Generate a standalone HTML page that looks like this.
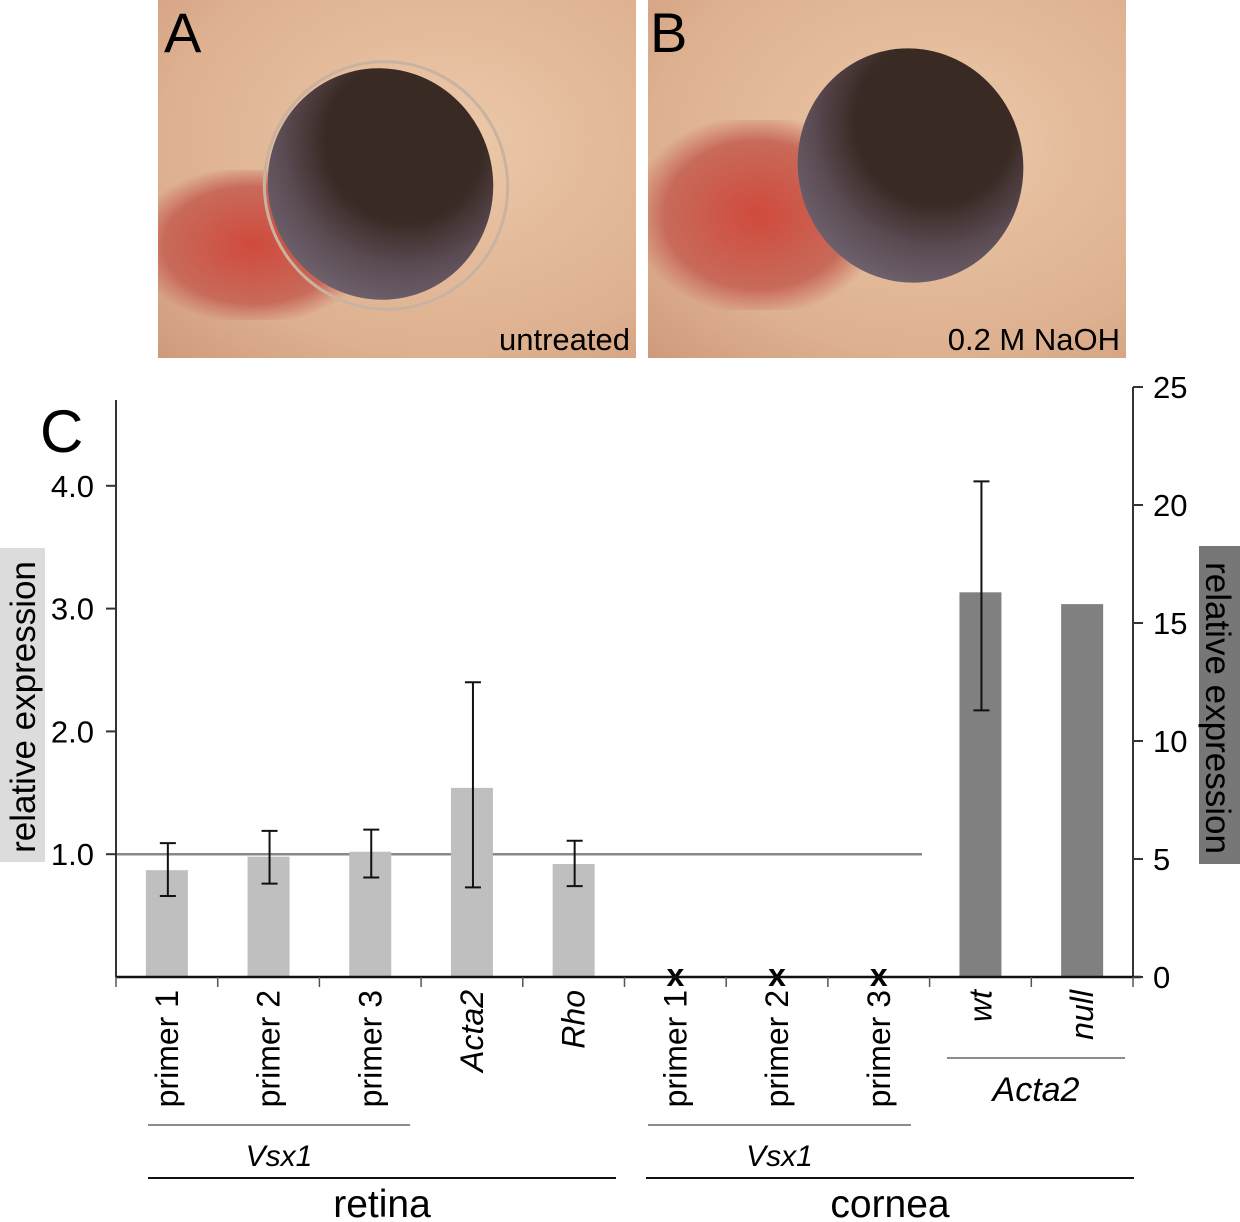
<!DOCTYPE html>
<html><head><meta charset="utf-8"><style>
body{margin:0;background:#fff;width:1240px;height:1222px;overflow:hidden;font-family:"Liberation Sans",sans-serif}
.photo{position:absolute;top:0;height:358px;overflow:hidden}
</style></head><body>
<div class="photo" style="left:158px;width:478px;background:radial-gradient(ellipse at 60% 40%,#ecc9aa,#ddb08f 70%,#cf9a7c)">
 <div style="position:absolute;left:-20px;top:170px;width:230px;height:150px;background:radial-gradient(ellipse,#d04a3c,#c86a5a 55%,transparent 75%)"></div>
 <div style="position:absolute;left:105px;top:60px;width:240px;height:245px;border-radius:50%;border:3px solid #c9b3a0;transform:rotate(-15deg)"></div>
 <div style="position:absolute;left:110px;top:68px;width:225px;height:232px;border-radius:50%;background:radial-gradient(ellipse at 65% 35%,#3a2a24 38%,#5a4a52 58%,#706470 80%);transform:rotate(-15deg)"></div>
 <div style="position:absolute;left:6px;top:0px;font-size:56px;color:#000">A</div>
 <div style="position:absolute;right:6px;bottom:0px;font-size:31px;color:#000">untreated</div>
</div>
<div class="photo" style="left:648px;width:478px;background:radial-gradient(ellipse at 60% 40%,#ecc9aa,#ddb08f 70%,#cf9a7c)">
 <div style="position:absolute;left:-10px;top:120px;width:240px;height:190px;background:radial-gradient(ellipse,#d04a3c,#c86a5a 55%,transparent 75%)"></div>
 <div style="position:absolute;left:150px;top:48px;width:225px;height:235px;border-radius:50%;background:radial-gradient(ellipse at 65% 35%,#3a2a24 38%,#5a4a52 58%,#706470 80%);transform:rotate(-15deg)"></div>
 <div style="position:absolute;left:2px;top:0px;font-size:56px;color:#000">B</div>
 <div style="position:absolute;right:6px;bottom:0px;font-size:31px;color:#000">0.2 M NaOH</div>
</div>
<svg id="chart" width="1240" height="1222" style="position:absolute;left:0;top:0" font-family="Liberation Sans, sans-serif"></svg>
<script>
const categories=["primer 1","primer 2","primer 3","Acta2","Rho","primer 1","primer 2","primer 3","wt","null"];
const italic=[false,false,false,true,true,false,false,false,true,true];
const leftValues=[0.87,0.98,1.02,1.54,0.92,null,null,null,null,null];
const leftErrLow=[0.66,0.76,0.81,0.73,0.74];
const leftErrHigh=[1.09,1.19,1.2,2.4,1.11];
const missing=[5,6,7];
const rightValues=[null,null,null,null,null,null,null,null,16.3,15.8];
const rightErrLow=[11.3];
const rightErrHigh=[21.0];
const leftTicks=[1.0,2.0,3.0,4.0];
const leftTickLabels=["1.0","2.0","3.0","4.0"];
const rightTicks=[0,5,10,15,20,25];
const refValue=1.0;
const svg=document.getElementById('chart');
const NS='http://www.w3.org/2000/svg';
function add(tag,attrs,text){const e=document.createElementNS(NS,tag);for(const k in attrs)e.setAttribute(k,attrs[k]);if(text!==undefined)e.textContent=text;svg.appendChild(e);return e;}
const x0=116,x1=1133,y0=977;
const yL=v=>y0-v*122.8;
const yR=v=>y0-v*23.6;
const step=(x1-x0)/10;
const xc=i=>x0+step*(i+0.5);
const bw=42;
let t=add('text',{x:40,y:452,'font-size':60},'C');
let r=add('rect',{x:0,y:548,width:45,height:314,fill:'#dcdcdc'});
t=add('text',{x:0,y:0,'font-size':35,'text-anchor':'middle',transform:'translate(35,707) rotate(-90)'},'relative expression');
r=add('rect',{x:1199,y:546,width:41,height:318,fill:'#777'});
t=add('text',{x:0,y:0,'font-size':35,'text-anchor':'middle',transform:'translate(1206,708) rotate(90)'},'relative expression');
let l=add('line',{x1:x0,x2:922,y1:yL(refValue),y2:yL(refValue),stroke:'#888','stroke-width':2.5});
categories.forEach((c,i)=>{
 if(leftValues[i]!=null){const b=add('rect',{x:xc(i)-bw/2,y:yL(leftValues[i]),width:bw,height:y0-yL(leftValues[i]),fill:'#bfbfbf'});
  const lo=yL(leftErrLow[i]),hi=yL(leftErrHigh[i]),x=xc(i)+1;
  const eb=add('path',{d:`M${x},${lo}V${hi}M${x-8},${lo}H${x+8}M${x-8},${hi}H${x+8}`,stroke:'#111','stroke-width':2,fill:'none'});}
 if(rightValues[i]!=null){const b=add('rect',{x:xc(i)-bw/2,y:yR(rightValues[i]),width:bw,height:y0-yR(rightValues[i]),fill:'#808080'});}
});
{const i=8,lo=yR(rightErrLow[0]),hi=yR(rightErrHigh[0]),x=xc(i)+1;
 const eb=add('path',{d:`M${x},${lo}V${hi}M${x-8},${lo}H${x+8}M${x-8},${hi}H${x+8}`,stroke:'#111','stroke-width':2,fill:'none'});}
missing.forEach(i=>{const m=add('text',{x:xc(i),y:y0+9,'font-size':32,'text-anchor':'middle','font-weight':'bold'},'x');});
l=add('line',{x1:x0,x2:x0,y1:400,y2:y0,stroke:'#333','stroke-width':2});
l=add('line',{x1:x1,x2:x1,y1:yR(25),y2:y0,stroke:'#333','stroke-width':2});
l=add('line',{x1:x0,x2:x1+8,y1:y0,y2:y0,stroke:'#111','stroke-width':2.5});
leftTicks.forEach((v,k)=>{add('line',{x1:x0-10,x2:x0,y1:yL(v),y2:yL(v),stroke:'#333','stroke-width':2});
 const tl=add('text',{x:x0-22,y:yL(v)+11,'font-size':31,'text-anchor':'end'},leftTickLabels[k]);});
rightTicks.forEach(v=>{add('line',{x1:x1,x2:x1+10,y1:yR(v),y2:yR(v),stroke:'#333','stroke-width':2});
 const tl=add('text',{x:x1+20,y:yR(v)+11,'font-size':31},String(v));});
for(let k=0;k<=10;k++){add('line',{x1:x0+step*k,x2:x0+step*k,y1:y0,y2:y0+10,stroke:'#555','stroke-width':1.5});}
categories.forEach((c,i)=>{const tl=add('text',{x:0,y:0,'font-size':32,'text-anchor':'end','font-style':italic[i]?'italic':'normal',transform:`translate(${xc(i)+11},990) rotate(-90)`},c);});
function grp(xa,xb,y,label,ly,fs,it,col,w){add('line',{x1:xa,x2:xb,y1:y,y2:y,stroke:col,'stroke-width':w});const g=add('text',{x:(xa+xb)/2,y:ly,'font-size':fs,'text-anchor':'middle','font-style':it?'italic':'normal'},label);}
grp(148,410,1125,'Vsx1',1166,30,true,'#666',1.5);
grp(648,911,1125,'Vsx1',1166,30,true,'#666',1.5);
grp(947,1125,1058,'Acta2',1101,34,true,'#666',1.5);
grp(148,616,1178,'retina',1217,39,false,'#111',2);
grp(646,1134,1178,'cornea',1217,39,false,'#111',2);
</script>
</body></html>
